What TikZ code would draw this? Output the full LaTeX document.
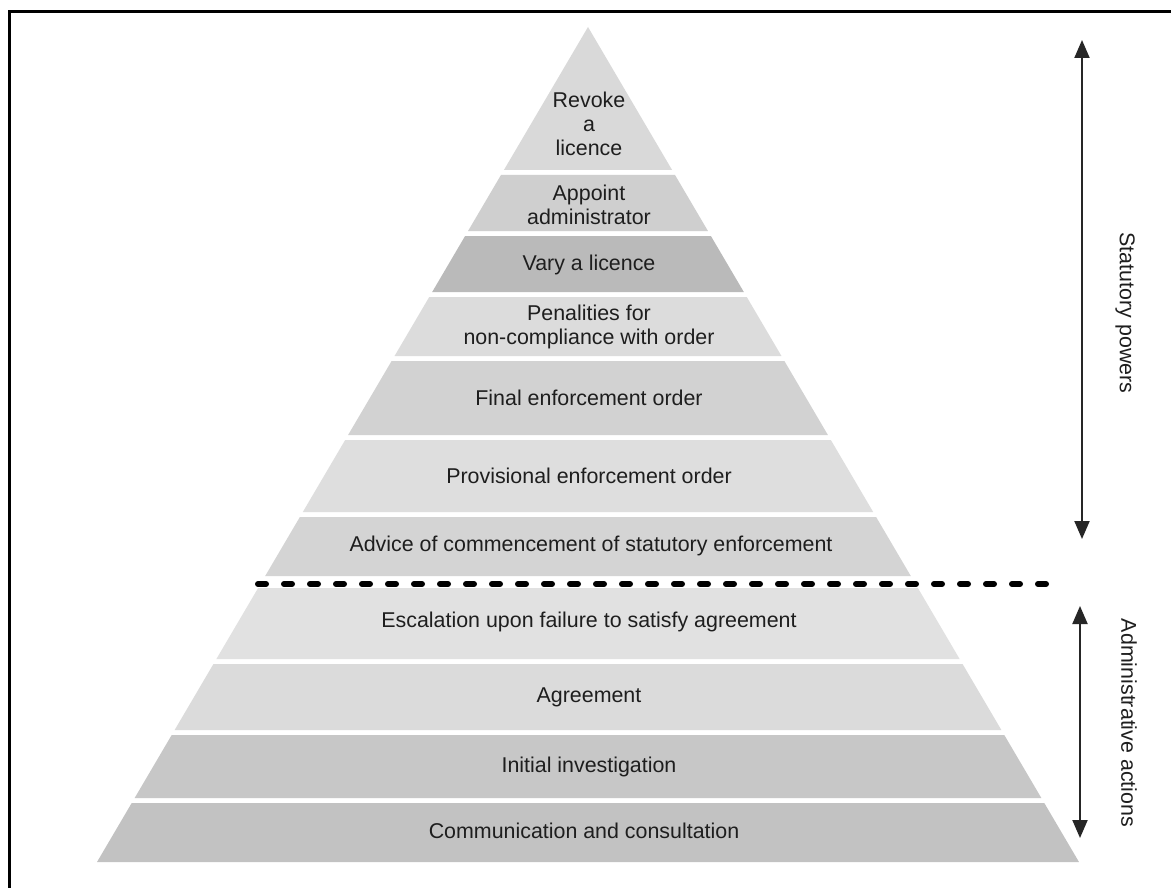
\documentclass[tikz,border=0pt]{standalone}
\usepackage{fontspec}
\setmainfont{Liberation Sans}
\usetikzlibrary{arrows.meta}

% pyramid apex and half-width growth per unit of height
\newcommand\apexx{588}
\newcommand\apexy{27}
\newcommand\slope{0.588}

% one horizontal slice of the pyramid: top y, bottom y, fill colour
\newcommand\pyrband[3]{%
  \pgfmathsetmacro\hwa{\slope*(#1-\apexy)}%
  \pgfmathsetmacro\hwb{\slope*(#2-\apexy)}%
  \fill[#3] ({\apexx-\hwa},#1) -- ({\apexx+\hwa},#1) --
            ({\apexx+\hwb},#2) -- ({\apexx-\hwb},#2) -- cycle;%
}

\definecolor{bandA}{HTML}{D9D9D9}
\definecolor{bandB}{HTML}{CFCFCF}
\definecolor{bandC}{HTML}{BABABA}
\definecolor{bandD}{HTML}{DCDCDC}
\definecolor{bandE}{HTML}{D2D2D2}
\definecolor{bandF}{HTML}{DEDEDE}
\definecolor{bandG}{HTML}{D4D4D4}
\definecolor{bandH}{HTML}{E1E1E1}
\definecolor{bandI}{HTML}{DBDBDB}
\definecolor{bandJ}{HTML}{C7C7C7}
\definecolor{bandK}{HTML}{C2C2C2}
\definecolor{ink}{HTML}{1E1E1E}

\begin{document}
\begin{tikzpicture}[x=1pt,y=-1pt,
  lbl/.style={text=ink,align=center,inner sep=0pt,
    font=\fontsize{21.4}{24}\selectfont},
  side/.style={text=ink,rotate=-90,inner sep=0pt,
    font=\fontsize{21.4}{24}\selectfont},
  span/.style={draw=black!85,line width=2pt,
    {Triangle[length=18pt,width=15pt]}-{Triangle[length=18pt,width=15pt]}},
  divider/.style={line width=6pt,line cap=round,
    dash pattern=on 8pt off 18pt}]

\useasboundingbox (0,0) rectangle (1171,888);
\fill[white] (0,0) rectangle (1171,888);

% frame
\draw[line width=3pt] (9,888) -- (9,12) -- (1171,12);

% pyramid slices, top to bottom
\pyrband{27}{170}{bandA}
\pyrband{175}{231}{bandB}
\pyrband{236}{292}{bandC}
\pyrband{297}{356}{bandD}
\pyrband{361}{435}{bandE}
\pyrband{440}{512}{bandF}
\pyrband{517}{576}{bandG}
\pyrband{588}{659}{bandH}
\pyrband{664}{730}{bandI}
\pyrband{735}{798}{bandJ}
\pyrband{803}{862}{bandK}

% slice labels
\node[lbl] (revoke)    at (589,124) {Revoke\\a\\licence};
\node[lbl] (appoint)   at (589,205) {Appoint\\administrator};
\node[lbl] (vary)      at (589,265) {Vary a licence};
\node[lbl] (penalty)   at (589,327) {Penalities for\\non-compliance with order};
\node[lbl] (final)     at (589,398) {Final enforcement order};
\node[lbl] (provision) at (589,476) {Provisional enforcement order};
\node[lbl] (advice)    at (591,546) {Advice of commencement of statutory enforcement};
\node[lbl] (escalate)  at (589,622) {Escalation upon failure to satisfy agreement};
\node[lbl] (agree)     at (589,697) {Agreement};
\node[lbl] (initial)   at (589,767) {Initial investigation};
\node[lbl] (comm)      at (584,831) {Communication and consultation};

% boundary between statutory and administrative measures
\coordinate (divL) at (258,584);
\coordinate (divR) at (1060,584);
\draw[divider] (divL) -- (divR);

% extent arrows with their captions
\coordinate (statTop) at (1082,40);
\coordinate (statBot) at (1082,539);
\draw[span] (statTop) -- (statBot);
\node[side] (stat) at (1125,313) {Statutory powers};

\coordinate (admTop) at (1080,606);
\coordinate (admBot) at (1080,838);
\draw[span] (admTop) -- (admBot);
\node[side] (adm) at (1129,723) {Administrative actions};

\end{tikzpicture}
\end{document}
